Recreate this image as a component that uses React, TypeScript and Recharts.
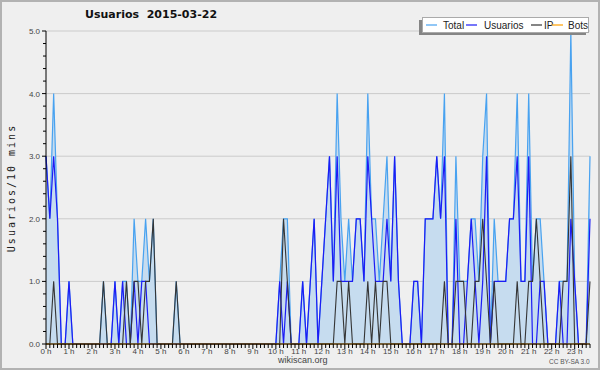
import { ComposedChart, Area, Line, XAxis, YAxis, CartesianGrid, Legend } from 'recharts';

// one value every 10 minutes, 00:00 .. 23:40
const hourLabels = [
  '0 h', '1 h', '2 h', '3 h', '4 h', '5 h', '6 h', '7 h', '8 h', '9 h', '10 h', '11 h',
  '12 h', '13 h', '14 h', '15 h', '16 h', '17 h', '18 h', '19 h', '20 h', '21 h', '22 h', '23 h',
];

const total = [
  3, 2, 4, 2, 0, 0, 1, 0, 0, 0, 0, 0,
  0, 0, 0, 1, 0, 0, 1, 0, 1, 1, 0, 2,
  1, 1, 2, 1, 2, 0, 0, 0, 0, 0, 1, 0,
  0, 0, 0, 0, 0, 0, 0, 0, 0, 0, 0, 0,
  0, 0, 0, 0, 0, 0, 0, 0, 0, 0, 0, 0,
  0, 1, 2, 2, 0, 0, 0, 1, 0, 1, 2, 0,
  1, 2, 3, 1, 4, 2, 1, 2, 1, 2, 2, 1,
  4, 2, 2, 1, 2, 3, 1, 3, 1, 0, 0, 0,
  1, 1, 0, 2, 2, 2, 3, 2, 4, 0, 0, 3,
  1, 1, 1, 2, 2, 1, 3, 4, 0, 2, 1, 1,
  1, 2, 2, 4, 1, 1, 4, 1, 2, 2, 1, 0,
  0, 0, 1, 1, 1, 5, 1, 0, 0, 0, 3,
];

const usuarios = [
  3, 2, 3, 2, 0, 0, 1, 0, 0, 0, 0, 0,
  0, 0, 0, 0, 0, 0, 1, 0, 1, 0, 0, 1,
  0, 1, 1, 0, 0, 0, 0, 0, 0, 0, 0, 0,
  0, 0, 0, 0, 0, 0, 0, 0, 0, 0, 0, 0,
  0, 0, 0, 0, 0, 0, 0, 0, 0, 0, 0, 0,
  0, 1, 0, 1, 0, 0, 0, 1, 0, 1, 2, 0,
  1, 2, 3, 1, 3, 1, 1, 1, 1, 2, 2, 1,
  3, 2, 1, 1, 1, 2, 1, 3, 1, 0, 0, 0,
  1, 1, 0, 2, 2, 2, 3, 2, 3, 0, 0, 2,
  0, 0, 1, 2, 1, 0, 1, 3, 0, 1, 1, 1,
  1, 2, 2, 3, 1, 1, 3, 0, 0, 1, 1, 0,
  0, 0, 1, 0, 0, 2, 1, 0, 0, 0, 2,
];

const ip = [
  0, 0, 1, 0, 0, 0, 0, 0, 0, 0, 0, 0,
  0, 0, 0, 1, 0, 0, 0, 0, 0, 1, 0, 1,
  1, 0, 1, 1, 2, 0, 0, 0, 0, 0, 1, 0,
  0, 0, 0, 0, 0, 0, 0, 0, 0, 0, 0, 0,
  0, 0, 0, 0, 0, 0, 0, 0, 0, 0, 0, 0,
  0, 0, 2, 1, 0, 0, 0, 0, 0, 0, 0, 0,
  0, 0, 0, 0, 1, 1, 0, 1, 0, 0, 0, 0,
  1, 0, 1, 0, 1, 1, 0, 0, 0, 0, 0, 0,
  0, 0, 0, 0, 0, 0, 0, 0, 1, 0, 0, 1,
  1, 1, 0, 0, 1, 1, 2, 1, 0, 1, 0, 0,
  0, 0, 0, 1, 0, 0, 1, 1, 2, 1, 0, 0,
  0, 0, 0, 1, 1, 3, 0, 0, 0, 0, 1,
];

const bots = [
  0, 0, 0, 0, 0, 0, 0, 0, 0, 0, 0, 0,
  0, 0, 0, 0, 0, 0, 0, 0, 0, 0, 0, 0,
  0, 0, 0, 0, 0, 0, 0, 0, 0, 0, 0, 0,
  0, 0, 0, 0, 0, 0, 0, 0, 0, 0, 0, 0,
  0, 0, 0, 0, 0, 0, 0, 0, 0, 0, 0, 0,
  0, 0, 0, 0, 0, 0, 0, 0, 0, 0, 0, 0,
  0, 0, 0, 0, 0, 0, 0, 0, 0, 0, 0, 0,
  0, 0, 0, 0, 0, 0, 0, 0, 0, 0, 0, 0,
  0, 0, 0, 0, 0, 0, 0, 0, 0, 0, 0, 0,
  0, 0, 0, 0, 0, 0, 0, 0, 0, 0, 0, 0,
  0, 0, 0, 0, 0, 0, 0, 0, 0, 0, 0, 0,
  0, 0, 0, 0, 0, 0, 0, 0, 0, 0, 0,
];

const gridValues = [1, 2, 3, 4, 5];

const data = total.map((t, i) => ({
  slot: i,
  total: t,
  usuarios: usuarios[i],
  ip: ip[i],
  bots: bots[i],
}));

// every 10 min gets a small tick, every hour a label
const xTicks = data.map(d => d.slot);
const yTicks = Array.from({ length: 26 }, (_, i) => i / 5);

const COLORS = {
  total: '#48a2f0',
  fill: '#c6dcef',
  usuarios: '#1c1cf5',
  ip: '#353535',
  bots: '#ffa000',
};

const LABEL_FONT = '"Liberation Sans", Arial, sans-serif';

function HourTick({ x, y, payload }: any) {
  const v = payload.value;
  const isHour = v % 6 === 0;
  return (
    <g>
      <line x1={x} x2={x} y1={y} y2={y + (isHour ? 5 : 4)} stroke="#000" />
      {isHour && (
        <text x={x} y={y + 10} textAnchor="middle" fontSize={8} fontFamily={LABEL_FONT} fill="#444">
          {hourLabels[v / 6]}
        </text>
      )}
    </g>
  );
}

function ValueTick({ x, y, payload }: any) {
  const v = payload.value;
  const major = Math.abs(v - Math.round(v)) < 1e-6;
  return (
    <g>
      <line x1={x - (major ? 4 : 3)} x2={x} y1={y} y2={y} stroke="#000" />
      {major && (
        <text x={x - 6} y={y + 3} textAnchor="end" fontSize={8} fontFamily={LABEL_FONT} fill="#444">
          {v.toFixed(1)}
        </text>
      )}
    </g>
  );
}

const legendItems = [
  { label: 'Total', color: COLORS.total, x: 4, tx: 21 },
  { label: 'Usuarios', color: COLORS.usuarios, x: 44, tx: 62 },
  { label: 'IP', color: COLORS.ip, x: 109, tx: 122 },
  { label: 'Bots', color: COLORS.bots, x: 130, tx: 146 },
];

function LegendBox() {
  return (
    <div style={{ position: 'relative', width: 170, height: 18 }}>
      <div style={{ position: 'absolute', left: 0, top: 3, width: 167, height: 15, background: '#858585' }} />
      <svg width={168} height={16} style={{ position: 'absolute', left: 3, top: 0 }}>
        <rect x={0.5} y={0.5} width={166} height={15} fill="#fff" stroke="#aaa" />
        {legendItems.map(it => (
          <g key={it.label}>
            <line x1={it.x} x2={it.x + 11} y1={8} y2={8} stroke={it.color} strokeWidth={1.2} />
            <text x={it.tx} y={12} fontSize={10} fontFamily={LABEL_FONT} fill="#222">{it.label}</text>
          </g>
        ))}
      </svg>
    </div>
  );
}

export default function App() {
  return (
    <div style={{ position: 'absolute', left: 0, top: 0, width: 600, height: 370, background: '#efefef', overflow: 'hidden' }}>
      <ComposedChart width={600} height={370} data={data} margin={{ top: 31, right: 10, bottom: 0, left: 8 }}>
        <CartesianGrid vertical={false} horizontalValues={gridValues} stroke="#cbcbcb" />
        <XAxis
          dataKey="slot"
          type="number"
          domain={[0, 142]}
          ticks={xTicks}
          interval={0}
          tick={<HourTick />}
          tickLine={false}
          tickSize={0}
          tickMargin={0}
          axisLine={{ stroke: '#000' }}
          height={26}
        />
        <YAxis
          type="number"
          domain={[0, 5]}
          ticks={yTicks}
          interval={0}
          tick={<ValueTick />}
          tickLine={false}
          tickSize={0}
          tickMargin={0}
          axisLine={{ stroke: '#000' }}
          width={38}
        />
        <Area
          type="linear"
          dataKey="total"
          stroke={COLORS.total}
          strokeWidth={1.2}
          fill={COLORS.fill}
          fillOpacity={1}
          dot={false}
          activeDot={false}
          isAnimationActive={false}
        />
        <Line type="linear" dataKey="usuarios" stroke={COLORS.usuarios} strokeWidth={1.2} dot={false} activeDot={false} isAnimationActive={false} />
        <Line type="linear" dataKey="ip" stroke={COLORS.ip} strokeWidth={1.1} dot={false} activeDot={false} isAnimationActive={false} />
        <Line type="linear" dataKey="bots" stroke={COLORS.bots} strokeWidth={1.1} dot={false} activeDot={false} isAnimationActive={false} />
        <Legend
          layout="horizontal"
          verticalAlign="middle"
          align="center"
          content={<LegendBox />}
          wrapperStyle={{ left: 419, top: 17, width: 171, height: 19 }}
        />
      </ComposedChart>

      <div style={{ position: 'absolute', left: 85, top: 8, fontFamily: '"DejaVu Sans", sans-serif', fontWeight: 'bold', fontSize: 11, color: '#111', whiteSpace: 'pre' }}>
        {'Usuarios  2015-03-22'}
      </div>
      <div
        style={{
          position: 'absolute',
          left: 11,
          top: 188,
          transform: 'translate(-50%, -50%) rotate(-90deg)',
          fontFamily: '"DejaVu Sans Mono", monospace',
          fontSize: 10,
          letterSpacing: 2,
          color: '#222',
          whiteSpace: 'nowrap',
        }}
      >
        Usuarios/10 mins
      </div>
      <div style={{ position: 'absolute', left: 278, top: 355, fontFamily: LABEL_FONT, fontSize: 9, color: '#444' }}>
        wikiscan.org
      </div>
      <div style={{ position: 'absolute', left: 549, top: 358, fontFamily: LABEL_FONT, fontSize: 6.5, color: '#555' }}>
        CC BY-SA 3.0
      </div>
      <div style={{ position: 'absolute', inset: 0, border: '2px solid #b2b2b2', pointerEvents: 'none' }} />
    </div>
  );
}
